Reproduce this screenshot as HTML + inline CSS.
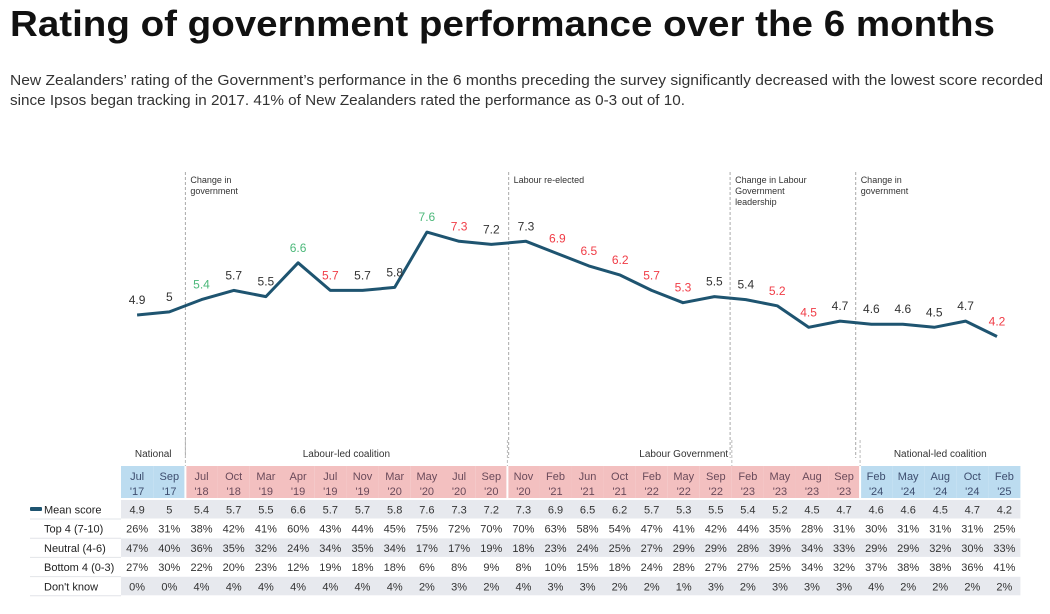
<!DOCTYPE html>
<html><head><meta charset="utf-8">
<style>
body{margin:0;background:#fff;}
svg{display:block;font-family:"Liberation Sans",sans-serif;}
</style></head>
<body>
<svg id="chart" width="1050" height="614" viewBox="0 0 1050 614" xmlns="http://www.w3.org/2000/svg">
<text x="10" y="36" font-size="36" font-weight="bold" fill="#111" textLength="985" lengthAdjust="spacingAndGlyphs">Rating of government performance over the 6 months</text>
<text x="10" y="85" font-size="15" fill="#333" textLength="1033" lengthAdjust="spacingAndGlyphs">New Zealanders’ rating of the Government’s performance in the 6 months preceding the survey significantly decreased with the lowest score recorded</text>
<text x="10" y="105" font-size="15" fill="#333" textLength="675" lengthAdjust="spacingAndGlyphs">since Ipsos began tracking in 2017. 41% of New Zealanders rated the performance as 0-3 out of 10.</text>
<g id="plot"></g>
<g id="table"></g>
</svg>
<script>
const months=["Jul","Sep","Jul","Oct","Mar","Apr","Jul","Nov","Mar","May","Jul","Sep","Nov","Feb","Jun","Oct","Feb","May","Sep","Feb","May","Aug","Sep","Feb","May","Aug","Oct","Feb"];
const monthsFull=["Jul","Sep","Jul","Oct","Mar","Apr","Jul","Nov","Mar","May","Jul","Sep","Nov","Feb","Jun","Oct","Feb","May","Sep","Feb","May","Aug","Sep","Feb","May","Aug","Oct","Feb"];
const periods=["Jul '17","Sep '17","Jul '18","Oct '18","Mar '19","Apr '19","Jul '19","Nov '19","Mar '20","May '20","Jul '20","Sep '20","Nov '20","Feb '21","Jun '21","Oct '21","Feb '22","May '22","Sep '22","Feb '23","May '23","Aug '23","Sep '23","Feb '24","May '24","Aug '24","Oct '24","Feb '25"];
</script>
<script>
const categories=["Jul '17","Sep '17","Jul '18","Oct '18","Mar '19","Apr '19","Jul '19","Nov '19","Mar '20","May '20","Jul '20","Sep '20","Nov '20","Feb '21","Jun '21","Oct '21","Feb '22","May '22","Sep '22","Feb '23","May '23","Aug '23","Sep '23","Feb '24","May '24","Aug '24","Oct '24","Feb '25"];
const meanScore=[4.9,5,5.4,5.7,5.5,6.6,5.7,5.7,5.8,7.6,7.3,7.2,7.3,6.9,6.5,6.2,5.7,5.3,5.5,5.4,5.2,4.5,4.7,4.6,4.6,4.5,4.7,4.2];
const meanLabels=["4.9","5","5.4","5.7","5.5","6.6","5.7","5.7","5.8","7.6","7.3","7.2","7.3","6.9","6.5","6.2","5.7","5.3","5.5","5.4","5.2","4.5","4.7","4.6","4.6","4.5","4.7","4.2"];
const significance=["n","n","up","n","n","up","down","n","n","up","down","n","n","down","down","down","down","down","n","n","down","down","n","n","n","n","n","down"];
const top4=[26,31,38,42,41,60,43,44,45,75,72,70,70,63,58,54,47,41,42,44,35,28,31,30,31,31,31,25];
const neutral=[47,40,36,35,32,24,34,35,34,17,17,19,18,23,24,25,27,29,29,28,39,34,33,29,29,32,30,33];
const bottom4=[27,30,22,20,23,12,19,18,18,6,8,9,8,10,15,18,24,28,27,27,25,34,32,37,38,38,36,41];
const dontKnow=[0,0,4,4,4,4,4,4,4,2,3,2,4,3,3,2,2,1,3,2,3,3,3,4,2,2,2,2];
const groupNames=["National","Labour-led coalition","Labour Government","National-led coalition"];
const groupStart=[0,2,12,23];
const events=["Change in|government","Labour re-elected","Change in Labour|Government|leadership","Change in|government"];
const eventAfter=[2,12,19,23];
</script>
<script>
const NS="http://www.w3.org/2000/svg";
const n=categories.length;
const splitIdx=12;
function colLeft(i){return i<splitIdx?121+i*32.2:507.4+(i-splitIdx)*(513/(n-splitIdx));}
function colW(i){return i<splitIdx?32.2:513/(n-splitIdx);}
function colX(i){return colLeft(i)+colW(i)/2;}
function xScale(i){return i<splitIdx?colX(i):526+(i-splitIdx)*((997-526)/(n-1-splitIdx));}
function yScale(v){return 315-(v-4.9)*30.7;}
function mk(tag,attrs,parent,txt){const e=document.createElementNS(NS,tag);for(const k in attrs)e.setAttribute(k,attrs[k]);if(txt!==undefined)e.textContent=txt;parent.appendChild(e);return e;}
const plot=document.getElementById('plot');
const table=document.getElementById('table');
// event separators
events.forEach((ev,k)=>{
  const i=eventAfter[k];
  const x=(xScale(i-1)+xScale(i))/2;
  const ln=mk('line',{x1:x,x2:x,y1:172,y2:458,stroke:'#aaa','stroke-dasharray':'3,2','stroke-width':1},plot);
  
  
  const tx=(colLeft(i-1)+colW(i-1)+colLeft(i))/2;
  const tl=mk('line',{x1:tx,x2:tx,y1:440,y2:466,stroke:'#bbb','stroke-dasharray':'3,2'},plot);
  
  
  ev.split('|').forEach((s,j)=>{
    const t=mk('text',{x:x+5,y:183+j*11,'font-size':9,fill:'#333'},plot,s);
    
    
  });
});
// line
let d='';
meanScore.forEach((v,i)=>{d+=(i?'L':'M')+xScale(i).toFixed(1)+','+yScale(v).toFixed(1);});
const path=mk('path',{d:d,fill:'none',stroke:'#1e5470','stroke-width':3,'stroke-linejoin':'round'},plot);


meanScore.forEach((v,i)=>{
  const col=significance[i]==='up'?'#4cb87a':significance[i]==='down'?'#f03c46':'#333';
  const t=mk('text',{x:xScale(i),y:yScale(v)-11,'font-size':12,fill:col,'text-anchor':'middle'},plot,meanLabels[i]);
  
  
});
// group labels
groupNames.forEach((g,k)=>{
  const s=groupStart[k],e=(k+1<groupStart.length?groupStart[k+1]:n)-1;
  const t=mk('text',{x:(colX(s)+colX(e))/2,y:457,'font-size':10,fill:'#333','text-anchor':'middle'},table,g);
  
  
});
// header cells
categories.forEach((c,i)=>{
  const blue=i<2||i>=23;
  const r=mk('rect',{x:colLeft(i),y:466,width:colW(i),height:32,fill:blue?'#bcdcf0':'#f3c0c0'},table);
  
  
  const parts=c.split(' ');
  const fc=blue?'#3d4d6e':'#6a4a5a';
  const t1=mk('text',{x:colX(i),y:480,'font-size':11,fill:fc,'text-anchor':'middle'},table,parts[0]);
  
  
  const t2=mk('text',{x:colX(i),y:495,'font-size':11,fill:fc,'text-anchor':'middle'},table,parts[1]);
  
  
});
[2,12,23].forEach(i=>{
  const l=mk('line',{x1:colLeft(i),x2:colLeft(i),y1:466,y2:498,stroke:'#fff','stroke-width':2},table);
  
  
});
// rows
const rows=[["Mean score",meanLabels,true],["Top 4 (7-10)",top4.map(v=>v+'%'),false],["Neutral (4-6)",neutral.map(v=>v+'%'),true],["Bottom 4 (0-3)",bottom4.map(v=>v+'%'),false],["Don't know",dontKnow.map(v=>v+'%'),true]];
rows.forEach((r,k)=>{
  const y=500+k*19.2;
  if(r[2]){const bg=mk('rect',{x:121,y:y,width:colLeft(n-1)+colW(n-1)-121,height:18.5,fill:'#e7e9ee'},table);
    }
  const sep=mk('line',{x1:30,x2:121,y1:y+19,y2:y+19,stroke:'#e2e4e8'},table);
  
  const lab=mk('text',{x:44,y:y+13.5,'font-size':11,fill:'#222'},table,r[0]);
  
  r[1].forEach((v,i)=>{
    const t=mk('text',{x:colX(i),y:y+13.5,'font-size':11,fill:'#333','text-anchor':'middle'},table,v);
    
  });
});
const key=mk('rect',{x:30,y:507,width:12,height:4,fill:'#1e5470',rx:1},table);


</script>
</body></html>
